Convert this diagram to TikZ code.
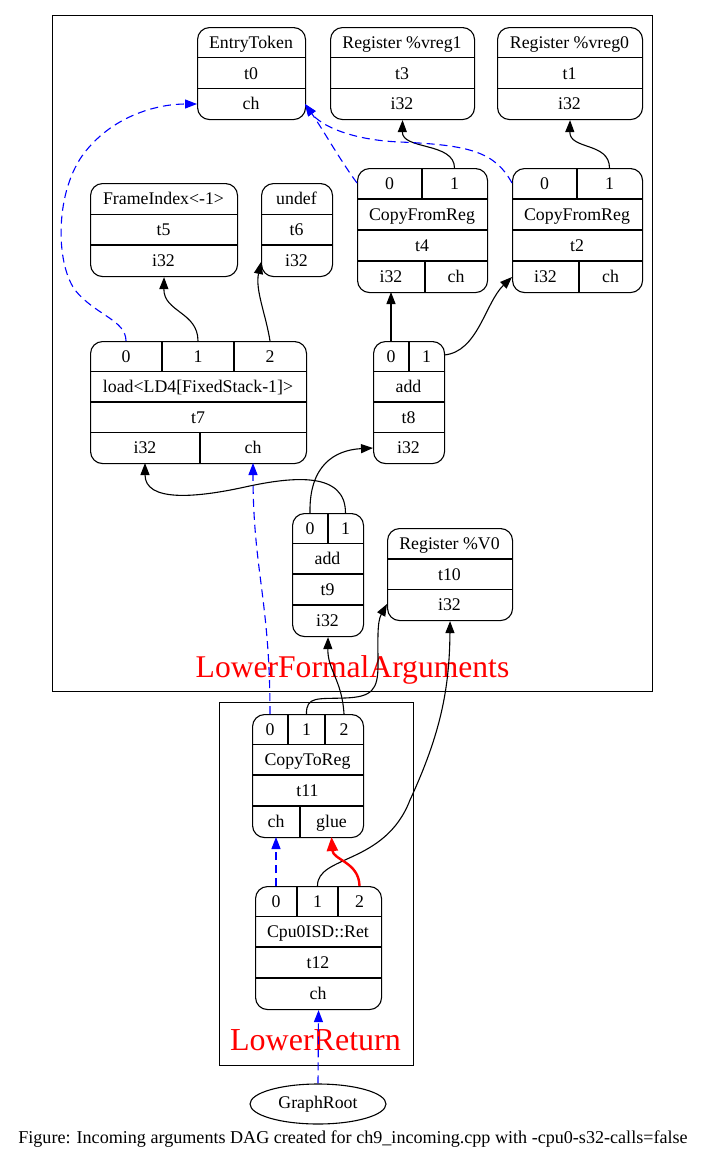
\documentclass[tikz,border=0pt]{standalone}
\usepackage{fontspec}
\setmainfont{Liberation Serif}
\usetikzlibrary{arrows.meta,shapes.geometric}
\newcommand{\nf}{\fontsize{17.8}{20}\selectfont}
\newcommand{\rtx}[3]{\path (#1,#2) ++(0,6) node[lab]{#3};}
\newcommand{\hdiv}[3]{\draw[div] (#1,#3) -- (#2,#3);}
\newcommand{\vdiv}[3]{\draw[div] (#1,#2) -- (#1,#3);}
\tikzset{
  rec/.style={draw, rounded corners=12pt, line width=1.1pt, inner sep=0pt, anchor=north west},
  lab/.style={font=\nf, inner sep=0pt, anchor=base},
  div/.style={line width=1.1pt},
  cluster/.style={draw, line width=1.1pt, inner sep=0pt, anchor=north west},
  clabel/.style={text=red, inner sep=0pt, anchor=base},
  edge/.style={line width=1.1pt, -{Triangle[length=12pt,width=9pt]}},
  dedge/.style={edge, blue, dash pattern=on 8pt off 5pt},
  redge/.style={line width=2.4pt, red, -{Triangle[length=14pt,width=11pt]}}
}
\begin{document}
\begin{tikzpicture}[x=1pt,y=-1pt]
\useasboundingbox (0,0) rectangle (705,1160);
% clusters
\node[cluster, minimum width=600pt, minimum height=676pt] (lfa) at (52,15) {};
\node[clabel, font=\fontsize{31.6}{35}\selectfont] (lfalab) at (352.5,677) {LowerFormalArguments};
\node[cluster, minimum width=194pt, minimum height=363pt] (lr) at (219,702) {};
\node[clabel, font=\fontsize{32}{35}\selectfont] (lrlab) at (315.5,1050) {LowerReturn};
% t0 EntryToken
\node[rec, minimum width=108pt, minimum height=92pt] (t0) at (197,27) {};
\hdiv{197}{305}{57.7}\hdiv{197}{305}{88.3}
\rtx{251}{42.3}{EntryToken}\rtx{251}{73}{t0}\rtx{251}{103.7}{ch}
% t3 Register %vreg1
\node[rec, minimum width=144pt, minimum height=92pt] (t3) at (330,27) {};
\hdiv{330}{474}{57.7}\hdiv{330}{474}{88.3}
\rtx{402}{42.3}{Register \%vreg1}\rtx{402}{73}{t3}\rtx{402}{103.7}{i32}
% t1 Register %vreg0
\node[rec, minimum width=145pt, minimum height=92pt] (t1) at (497,27) {};
\hdiv{497}{642}{57.7}\hdiv{497}{642}{88.3}
\rtx{569.5}{42.3}{Register \%vreg0}\rtx{569.5}{73}{t1}\rtx{569.5}{103.7}{i32}
% t5 FrameIndex
\node[rec, minimum width=147pt, minimum height=93pt] (t5) at (90,183) {};
\hdiv{90}{237}{214.3}\hdiv{90}{237}{245}
\rtx{163.5}{198.7}{FrameIndex<-1>}\rtx{163.5}{229.7}{t5}\rtx{163.5}{260.5}{i32}
% t6 undef
\node[rec, minimum width=71pt, minimum height=93pt] (t6) at (261,183) {};
\hdiv{261}{332}{214.3}\hdiv{261}{332}{245}
\rtx{296.5}{198.7}{undef}\rtx{296.5}{229.7}{t6}\rtx{296.5}{260.5}{i32}
% t4 CopyFromReg
\node[rec, minimum width=130pt, minimum height=124pt] (t4) at (357,168) {};
\hdiv{357}{487}{199}\hdiv{357}{487}{230}\hdiv{357}{487}{261}
\vdiv{422}{168}{199}\vdiv{425}{261}{292}
\rtx{389.5}{183.5}{0}\rtx{454.5}{183.5}{1}
\rtx{422}{214.5}{CopyFromReg}\rtx{422}{245.5}{t4}
\rtx{391}{276.5}{i32}\rtx{456}{276.5}{ch}
% t2 CopyFromReg
\node[rec, minimum width=130pt, minimum height=124pt] (t2) at (512,168) {};
\hdiv{512}{642}{199}\hdiv{512}{642}{230}\hdiv{512}{642}{261}
\vdiv{577}{168}{199}\vdiv{579}{261}{292}
\rtx{544.5}{183.5}{0}\rtx{609.5}{183.5}{1}
\rtx{577}{214.5}{CopyFromReg}\rtx{577}{245.5}{t2}
\rtx{545.5}{276.5}{i32}\rtx{610.5}{276.5}{ch}
% t7 load
\node[rec, minimum width=216pt, minimum height=122pt] (t7) at (90,341) {};
\hdiv{90}{306}{371.5}\hdiv{90}{306}{402}\hdiv{90}{306}{432.5}
\vdiv{162}{341}{371.5}\vdiv{234}{341}{371.5}\vdiv{200}{432.5}{463}
\rtx{126}{356.3}{0}\rtx{198}{356.3}{1}\rtx{270}{356.3}{2}
\rtx{198}{386.8}{load<LD4[FixedStack-1]>}\rtx{198}{417.3}{t7}
\rtx{145}{447.8}{i32}\rtx{253}{447.8}{ch}
% t8 add
\node[rec, minimum width=71pt, minimum height=122pt] (t8) at (373,341) {};
\hdiv{373}{444}{371.5}\hdiv{373}{444}{402}\hdiv{373}{444}{432.5}
\vdiv{409}{341}{371.5}
\rtx{391}{356.3}{0}\rtx{426.5}{356.3}{1}
\rtx{408.5}{386.8}{add}\rtx{408.5}{417.3}{t8}\rtx{408.5}{447.8}{i32}
% t9 add
\node[rec, minimum width=71pt, minimum height=123pt] (t9) at (292,513) {};
\hdiv{292}{363}{543.5}\hdiv{292}{363}{574}\hdiv{292}{363}{605}
\vdiv{328}{513}{543.5}
\rtx{310}{528.3}{0}\rtx{345.5}{528.3}{1}
\rtx{327.5}{558.8}{add}\rtx{327.5}{589.5}{t9}\rtx{327.5}{620.5}{i32}
% t10 Register %V0
\node[rec, minimum width=125pt, minimum height=92pt] (t10) at (387,528) {};
\hdiv{387}{512}{559}\hdiv{387}{512}{589.5}
\rtx{449.5}{543.5}{Register \%V0}\rtx{449.5}{574.3}{t10}\rtx{449.5}{604.8}{i32}
% t11 CopyToReg
\node[rec, minimum width=111pt, minimum height=123pt] (t11) at (252,714) {};
\hdiv{252}{363}{744.5}\hdiv{252}{363}{775}\hdiv{252}{363}{806}
\vdiv{288}{714}{744.5}\vdiv{325}{714}{744.5}\vdiv{300}{806}{837}
\rtx{270}{729.3}{0}\rtx{306.5}{729.3}{1}\rtx{344}{729.3}{2}
\rtx{307.5}{759.8}{CopyToReg}\rtx{307.5}{790.5}{t11}
\rtx{276}{821.5}{ch}\rtx{331.5}{821.5}{glue}
% t12 Cpu0ISD::Ret
\node[rec, minimum width=126pt, minimum height=123pt] (t12) at (255,886) {};
\hdiv{255}{381}{916.5}\hdiv{255}{381}{947}\hdiv{255}{381}{978}
\vdiv{297}{886}{916.5}\vdiv{338}{886}{916.5}
\rtx{276}{901.3}{0}\rtx{317.5}{901.3}{1}\rtx{359.5}{901.3}{2}
\rtx{318}{931.8}{Cpu0ISD::Ret}\rtx{318}{962.5}{t12}\rtx{318}{993.5}{ch}
% GraphRoot
\node[draw, ellipse, line width=1.1pt, minimum width=136pt, minimum height=40pt, inner sep=0pt, font=\nf] (root) at (318,1104) {GraphRoot};
% caption
\node[font=\fontsize{18.1}{20}\selectfont, inner sep=0pt, anchor=base] (cap) at (353,1143) {Figure: Incoming arguments DAG created for ch9\_incoming.cpp with -cpu0-s32-calls=false};
% ports
\coordinate (t0chL) at (197,104);
\coordinate (t0chR) at (305,104);
\coordinate (t4p0) at (357,183);
\coordinate (t4p1) at (454.5,168);
\coordinate (t4i32) at (391,292);
\coordinate (t2p0) at (512,183);
\coordinate (t2p1) at (609.5,168);
\coordinate (t2i32) at (512,277);
\coordinate (t6i32) at (261,262);
\coordinate (t7p0) at (126,341);
\coordinate (t7p1) at (198,341);
\coordinate (t7p2) at (270,341);
\coordinate (t7i32) at (145,463);
\coordinate (t7ch) at (253,463);
\coordinate (t8p0) at (391,341);
\coordinate (t8p1) at (444,355);
\coordinate (t8i32) at (373,448);
\coordinate (t9p0) at (310,513);
\coordinate (t9p1) at (345.5,513);
\coordinate (t10w) at (387,604);
\coordinate (t11p0) at (270,714);
\coordinate (t11p1) at (306.5,714);
\coordinate (t11p2) at (344,714);
\coordinate (t11ch) at (276,837);
\coordinate (t11glue) at (331.5,837);
\coordinate (t12p0) at (276,886);
\coordinate (t12p1) at (317.5,886);
\coordinate (t12p2) at (359.5,886);
% edges
\draw[edge] (t4p1) .. controls (454.5,142) and (402,150) .. (t3.south);
\draw[edge] (t2p1) .. controls (609.5,142) and (569.5,150) .. (t1.south);
\draw[edge] (t7p1) .. controls (198,312) and (163.5,312) .. (t5.south);
\draw[edge] (t7p2) .. controls (266,315) and (255,290) .. (t6i32);
\draw[edge] (t8p0) -- (t4i32);
\draw[edge] (t8p1) .. controls (478,352) and (485,303) .. (t2i32);
\draw[edge] (t9p0) .. controls (309,465) and (335,450) .. (t8i32);
\draw[edge] (t9p1) .. controls (345.5,472) and (295,476) .. (245,487) .. controls (195,498) and (145,502) .. (t7i32);
\draw[dedge] (t11p0) .. controls (270,600) and (253,570) .. (t7ch);
\draw[edge] (t11p1) .. controls (306,696) and (318,699) .. (345,698) .. controls (372,697) and (378,690) .. (378,665) .. controls (378,640) and (377,622) .. (t10w);
\draw[edge] (t11p2) .. controls (342,680) and (327.5,670) .. (t9.south);
\draw[dedge] (t12p0) -- (t11ch);
\draw[edge] (t12p1) .. controls (317,855) and (385,865) .. (410,800) .. controls (440,735) and (449.5,690) .. (t10.south);
\draw[redge] (t12p2) .. controls (359,862) and (333,860) .. (t11glue);
\draw[dedge] (root.north) -- (t12.south);
\draw[dedge] (t4p0) .. controls (340,160) and (322,128) .. (t0chR);
\draw[dedge] (t2p0) .. controls (495,152) and (470,145) .. (400,142) .. controls (350,140) and (320,125) .. (t0chR);
\draw[dedge] (t7p0) .. controls (126,320) and (95,315) .. (75,290) .. controls (55,262) and (55,190) .. (85,152) .. controls (115,114) and (160,104) .. (t0chL);
\end{tikzpicture}
\end{document}
